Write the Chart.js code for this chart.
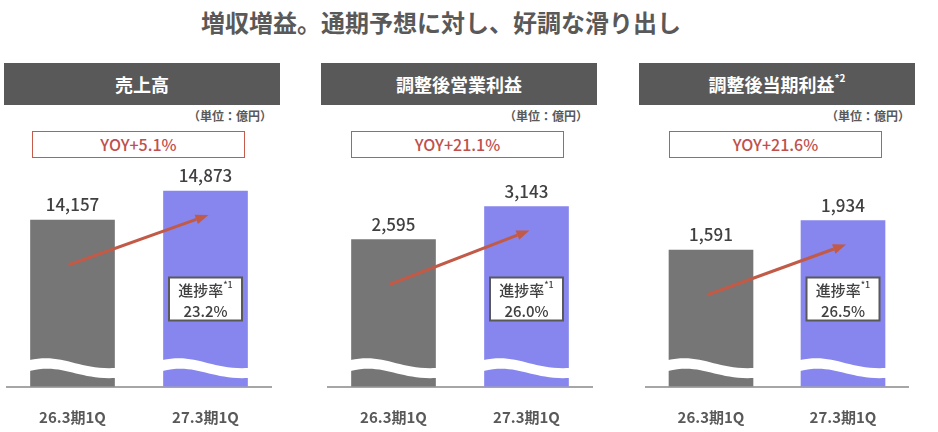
<!DOCTYPE html>
<html><head><meta charset="utf-8">
<script src="https://cdn.jsdelivr.net/npm/chart.js@4"></script>
<style>
html,body{margin:0;padding:0;background:#fff;}
body{width:938px;height:432px;position:relative;overflow:hidden;font-family:"Noto Sans CJK JP","Noto Sans",sans-serif;}
.abs{position:absolute;}
#title{left:0;top:5px;width:882px;text-align:center;font-size:24px;font-weight:bold;color:#595959;line-height:34px;}
.tbar{height:42px;width:276px;top:63px;background:#595959;color:#fff;font-size:18px;font-weight:bold;text-align:center;line-height:42px;}
.tbar sup{font-size:10px;vertical-align:top;position:relative;top:-6px;font-weight:bold;}
.unit{top:107px;font-size:12px;font-weight:bold;color:#595959;text-align:right;line-height:18px;width:200px;}
.yoy{top:131px;height:27px;width:213px;box-sizing:border-box;border:1.5px solid #c55b4b;color:#c0504d;font-size:16px;font-weight:500;text-align:center;line-height:24px;}
canvas{position:absolute;}
</style></head>
<body>
<div id="title" class="abs"></div>
<div id="panels"></div>
<script>
// ---- data ----
const chartTitle = '増収増益。通期予想に対し、好調な滑り出し';
const panelTitles = ['売上高', '調整後営業利益', '調整後当期利益'];
const panelNotes = ['', '', '*2'];
const unitLabel = '（単位：億円）';
const categories = ['26.3期1Q', '27.3期1Q'];
const salesValues = [14157, 14873];
const opProfitValues = [2595, 3143];
const netProfitValues = [1591, 1934];
const yoyLabels = ['YOY+5.1%', 'YOY+21.1%', 'YOY+21.6%'];
const progressLabel = '進捗率';
const progressNote = '*1';
const progressValues = ['23.2%', '26.0%', '26.5%'];

// ---- layout / style ----
const FONT = '"Noto Sans CJK JP","Noto Sans",sans-serif';
const seriesList = [salesValues, opProfitValues, netProfitValues];
const layout = [
  {bar: 4, yoy: 32, unitRight: 272, cLeft: 6, cWidth: 266, min: 10046, max: 15885},
  {bar: 321, yoy: 351, unitRight: 588, cLeft: 327, cWidth: 266, min: 154, max: 4081},
  {bar: 639, yoy: 669, unitRight: 910, cLeft: 645, cWidth: 264, min: 0, max: 2756}
];
const CANVAS_TOP = 150, CANVAS_H = 282;

document.getElementById('title').textContent = chartTitle;
const host = document.getElementById('panels');

const decor = {
  id: 'decor',
  afterDatasetsDraw(chart, args, opts) {
    const ctx = chart.ctx;
    const bars = chart.getDatasetMeta(0).data;
    const vals = chart.data.datasets[0].data;
    const bottom = chart.chartArea.bottom;
    ctx.save();
    // wavy break
    bars.forEach(b => {
      const x0 = b.x - b.width / 2 - 1, x1 = b.x + b.width / 2 + 1, w = x1 - x0;
      const y0 = bottom - 26.5;
      ctx.beginPath();
      ctx.moveTo(x0, y0);
      ctx.bezierCurveTo(x0 + w * 0.4, y0 - 7, x0 + w * 0.55, y0 + 10, x1, y0 + 8);
      ctx.lineTo(x1, y0 + 18);
      ctx.bezierCurveTo(x0 + w * 0.55, y0 + 20, x0 + w * 0.4, y0 + 3, x0, y0 + 11);
      ctx.closePath();
      ctx.fillStyle = '#ffffff';
      ctx.fill();
    });
    // value labels
    ctx.fillStyle = '#404040';
    ctx.font = '500 17px ' + FONT;
    ctx.textAlign = 'center';
    ctx.textBaseline = 'middle';
    bars.forEach((b, i) => {
      ctx.fillText(vals[i].toLocaleString('en-US'), b.x, b.y - 15);
    });
    // arrow
    const sx = bars[0].x - 4, sy = bars[0].y + 45;
    const ex = bars[1].x + 3, ey = bars[1].y + 24;
    const ang = Math.atan2(ey - sy, ex - sx);
    const hl = 13, hw = 5;
    const bx = ex - hl * Math.cos(ang), by = ey - hl * Math.sin(ang);
    ctx.strokeStyle = '#c25a48';
    ctx.fillStyle = '#c25a48';
    ctx.lineWidth = 3;
    ctx.beginPath(); ctx.moveTo(sx, sy); ctx.lineTo(bx, by); ctx.stroke();
    ctx.beginPath();
    ctx.moveTo(ex, ey);
    ctx.lineTo(bx + hw * Math.sin(ang), by - hw * Math.cos(ang));
    ctx.lineTo(bx - hw * Math.sin(ang), by + hw * Math.cos(ang));
    ctx.closePath(); ctx.fill();
    // progress box
    const cx = bars[1].x;
    const top = bottom - 109, h = 43, bw = 73;
    ctx.fillStyle = '#ffffff';
    ctx.fillRect(cx - bw / 2, top, bw, h);
    ctx.strokeStyle = '#595959';
    ctx.lineWidth = 2;
    ctx.strokeRect(cx - bw / 2, top, bw, h);
    ctx.fillStyle = '#404040';
    ctx.font = '500 15px ' + FONT;
    const mw = ctx.measureText(progressLabel).width;
    ctx.font = '500 9px ' + FONT;
    const nw = ctx.measureText(progressNote).width;
    const lx = cx - (mw + nw) / 2;
    ctx.textAlign = 'left';
    ctx.font = '500 15px ' + FONT;
    ctx.fillText(progressLabel, lx, top + 12.5);
    ctx.font = '500 9px ' + FONT;
    ctx.fillText(progressNote, lx + mw, top + 7);
    ctx.textAlign = 'center';
    ctx.font = '500 15px ' + FONT;
    ctx.fillText(opts.progress, cx, top + 33.5);
    ctx.restore();
  }
};

layout.forEach((L, i) => {
  const tb = document.createElement('div');
  tb.className = 'abs tbar';
  tb.style.left = L.bar + 'px';
  tb.textContent = panelTitles[i];
  if (panelNotes[i]) { const s = document.createElement('sup'); s.textContent = panelNotes[i]; tb.appendChild(s); }
  host.appendChild(tb);

  const u = document.createElement('div');
  u.className = 'abs unit';
  u.style.left = (L.unitRight - 200) + 'px';
  u.textContent = unitLabel;
  host.appendChild(u);

  const y = document.createElement('div');
  y.className = 'abs yoy';
  y.style.left = L.yoy + 'px';
  y.textContent = yoyLabels[i];
  host.appendChild(y);

  const c = document.createElement('canvas');
  c.width = L.cWidth; c.height = CANVAS_H;
  c.style.left = L.cLeft + 'px'; c.style.top = CANVAS_TOP + 'px';
  c.style.width = L.cWidth + 'px'; c.style.height = CANVAS_H + 'px';
  host.appendChild(c);

  new Chart(c, {
    type: 'bar',
    data: {
      labels: categories,
      datasets: [{
        data: seriesList[i],
        backgroundColor: ['#767676', '#8686ee'],
        barThickness: 84,
        borderWidth: 0
      }]
    },
    options: {
      responsive: false,
      animation: false,
      events: [],
      layout: {padding: 0},
      plugins: {legend: {display: false}, tooltip: {enabled: false}, decor: {progress: progressValues[i]}},
      scales: {
        x: {
          grid: {display: false},
          border: {display: true, color: '#a6a6a6', width: 2},
          ticks: {padding: 14, color: '#595959', font: {family: FONT, size: 15, weight: 'bold'}},
          afterFit(s) { s.height = 45.5; }
        },
        y: {display: false, min: L.min, max: L.max}
      }
    },
    plugins: [decor]
  });
});
</script>
</body></html>
